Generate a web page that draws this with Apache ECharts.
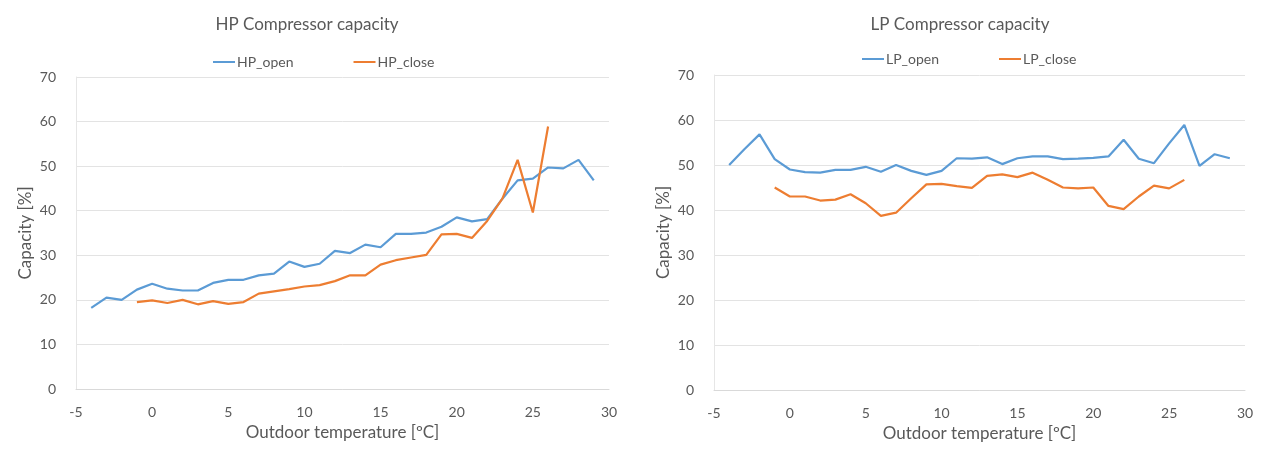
<!DOCTYPE html>
<html>
<head>
<meta charset="utf-8">
<script src="https://cdn.jsdelivr.net/npm/echarts@6/dist/echarts.min.js"></script>
<style>
  html, body { margin: 0; padding: 0; background: #fff; }
  #main { width: 1266px; height: 456px; }
</style>
</head>
<body>
<div id="main"></div>
<script>
// 数据
const hpOpenT = [-4, -3, -2, -1, 0, 1, 2, 3, 4, 5, 6, 7, 8, 9, 10, 11, 12, 13, 14, 15, 16, 17, 18, 19, 20, 21, 22, 23, 24, 25, 26, 27, 28, 29];
const hpOpen = [18.2, 20.5, 20.0, 22.3, 23.6, 22.5, 22.1, 22.1, 23.8, 24.5, 24.5, 25.5, 25.9, 28.6, 27.4, 28.1, 31.0, 30.5, 32.4, 31.8, 34.8, 34.8, 35.1, 36.4, 38.5, 37.6, 38.1, 42.7, 46.8, 47.2, 49.7, 49.5, 51.4, 46.8];
const hpCloseT = [-1, 0, 1, 2, 3, 4, 5, 6, 7, 8, 9, 10, 11, 12, 13, 14, 15, 16, 17, 18, 19, 20, 21, 22, 23, 24, 25, 26];
const hpClose = [19.5, 19.9, 19.3, 20.0, 19.0, 19.7, 19.1, 19.5, 21.4, 21.9, 22.4, 23.0, 23.3, 24.2, 25.5, 25.5, 27.9, 28.9, 29.5, 30.1, 34.7, 34.8, 33.9, 37.7, 42.7, 51.4, 39.6, 58.9];

const lpOpenT = hpOpenT;
const lpOpen = [50.0, 53.5, 56.8, 51.3, 49.0, 48.4, 48.3, 48.9, 48.9, 49.6, 48.5, 50.0, 48.7, 47.8, 48.7, 51.5, 51.4, 51.7, 50.2, 51.5, 51.9, 51.9, 51.3, 51.4, 51.6, 51.9, 55.6, 51.4, 50.4, 54.8, 58.9, 49.8, 52.4, 51.5];
const lpCloseT = hpCloseT;
const lpClose = [45.0, 43.0, 43.0, 42.1, 42.3, 43.5, 41.5, 38.7, 39.4, 42.6, 45.7, 45.8, 45.3, 44.9, 47.6, 47.9, 47.3, 48.3, 46.7, 45.0, 44.8, 45.0, 40.9, 40.2, 43.0, 45.4, 44.8, 46.7];

const pairs = (xs, ys) => xs.map((x, i) => [x, ys[i]]);

const BLUE = '#5b9bd5';
const ORANGE = '#ed7d31';
const TEXT = '#595959';
const GRID = '#e3e3e3';
const FONT = 'Lato';

function xAxis(idx) {
  return {
    gridIndex: idx, type: 'value', min: -5, max: 30, interval: 5,
    name: 'Outdoor temperature [ºC]', nameLocation: 'middle', nameGap: 31,
    nameTextStyle: { color: TEXT, fontSize: 17, fontFamily: FONT },
    axisLine: { lineStyle: { color: '#d9d9d9' } },
    axisTick: { show: false },
    splitLine: { show: false },
    axisLabel: { color: TEXT, fontSize: 14, fontFamily: FONT, margin: 16 }
  };
}
function yAxis(idx) {
  return {
    gridIndex: idx, type: 'value', min: 0, max: 70, interval: 10,
    name: 'Capacity [%]', nameLocation: 'middle', nameGap: 42,
    nameTextStyle: { color: TEXT, fontSize: 17, fontFamily: FONT },
    axisLine: { show: true, onZero: false, lineStyle: { color: '#e6e6e6' } },
    axisTick: { show: false },
    splitLine: { lineStyle: { color: GRID } },
    axisLabel: { color: TEXT, fontSize: 14, fontFamily: FONT, margin: 20 }
  };
}
function line(name, data, color, idx) {
  return {
    name, type: 'line', data, xAxisIndex: idx, yAxisIndex: idx,
    showSymbol: false, lineStyle: { color, width: 2.2 }, itemStyle: { color }
  };
}

const chart = echarts.init(document.getElementById('main'));
chart.setOption({
  animation: false,
  title: [
    { text: 'HP Compressor capacity', left: 302, top: 11, textAlign: 'center',
      textStyle: { color: TEXT, fontSize: 17, fontWeight: 'normal', fontFamily: FONT } },
    { text: 'LP Compressor capacity', left: 955, top: 11, textAlign: 'center',
      textStyle: { color: TEXT, fontSize: 17, fontWeight: 'normal', fontFamily: FONT } }
  ],
  legend: [
    { data: ['HP_open', 'HP_close'], left: 208, top: 50, itemGap: 60,
      itemWidth: 22, itemHeight: 2, icon: 'rect',
      textStyle: { color: TEXT, fontSize: 14, fontFamily: FONT, padding: [0, 0, 0, -3] } },
    { data: ['LP_open', 'LP_close'], left: 857, top: 47, itemGap: 60,
      itemWidth: 22, itemHeight: 2, icon: 'rect',
      textStyle: { color: TEXT, fontSize: 14, fontFamily: FONT, padding: [0, 0, 0, -3] } }
  ],
  grid: [
    { left: 76, top: 77, width: 533, height: 312 },
    { left: 714, top: 75, width: 531, height: 315 }
  ],
  xAxis: [xAxis(0), xAxis(1)],
  yAxis: [yAxis(0), yAxis(1)],
  series: [
    line('HP_open', pairs(hpOpenT, hpOpen), BLUE, 0),
    line('HP_close', pairs(hpCloseT, hpClose), ORANGE, 0),
    line('LP_open', pairs(lpOpenT, lpOpen), BLUE, 1),
    line('LP_close', pairs(lpCloseT, lpClose), ORANGE, 1)
  ]
});
</script>
</body>
</html>
